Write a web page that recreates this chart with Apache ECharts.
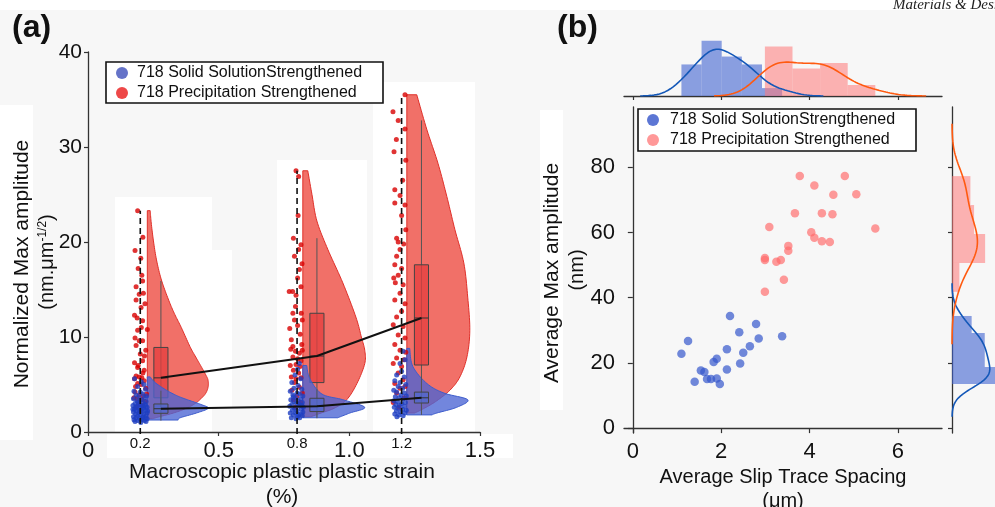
<!DOCTYPE html>
<html>
<head>
<meta charset="utf-8">
<script src="https://cdn.jsdelivr.net/npm/echarts/dist/echarts.min.js"></script>
<style>
  html, body { margin: 0; padding: 0; background: #f7f7f7; }
  #chart { width: 995px; height: 507px; }
</style>
</head>
<body>
<div id="chart"></div>
<script>
// ---------- Panel (a): normalized max amplitude vs. macroscopic plastic strain ----------
const strainGroups = [0.2, 0.8, 1.2];
const strainTicks = [0, 0.5, 1.0, 1.5];

// flat (left) edge of each half violin, in strain units
const violinLeft = [0.227, 0.822, 1.22];

// half-violin outlines: [amplitude, width in strain units], top to bottom
const violinPrecip = [
  [[23.3,0.011],[22.0,0.015],[20.0,0.024],[18.0,0.036],[16.0,0.054],[14.0,0.080],[12.5,0.103],[11.0,0.130],[9.0,0.163],[8.0,0.183],[6.9,0.206],[6.0,0.224],[5.5,0.232],[4.8,0.233],[4.1,0.224],[3.5,0.205],[3.0,0.183],[2.5,0.150],[2.0,0.100],[1.6,0.045],[1.4,0.020]],
  [[27.5,0.019],[25.0,0.035],[22.2,0.054],[19.2,0.096],[15.7,0.153],[12.1,0.203],[10.0,0.224],[8.6,0.237],[7.2,0.237],[5.1,0.207],[3.4,0.168],[2.5,0.120],[2.0,0.070],[1.6,0.030]],
  [[35.5,0.038],[31.8,0.077],[28.3,0.119],[24.8,0.153],[21.3,0.184],[17.8,0.218],[14.2,0.233],[10.7,0.241],[7.9,0.230],[5.8,0.203],[4.4,0.165],[3.2,0.110],[2.4,0.060],[2.0,0.030]]
];
const violinSolid = [
  [[5.8,0.011],[5.2,0.030],[4.4,0.073],[3.8,0.115],[3.4,0.153],[2.9,0.205],[2.5,0.233],[2.0,0.188],[1.5,0.126],[1.26,0.118]],
  [[7.0,0.015],[5.6,0.027],[4.0,0.073],[3.4,0.153],[2.6,0.237],[2.0,0.180],[1.5,0.134]],
  [[8.8,0.011],[6.9,0.023],[5.1,0.077],[4.1,0.142],[3.4,0.233],[2.6,0.191],[2.0,0.115],[1.8,0.096]]
];

// box plots: [position, lower whisker, Q1, median, Q3, upper whisker]
const boxPrecip = [[0.279,1.5,3.6,5.7,8.9,15.9],[0.876,1.6,5.2,8.0,12.5,20.4],[1.276,2.0,7.05,12.0,17.6,32.8]];
const boxSolid  = [[0.279,1.2,1.97,2.45,2.95,4.35],[0.876,1.45,2.15,2.7,3.55,4.5],[1.276,1.8,3.05,3.6,4.2,5.8]];

// individual measurements: [jitter offset from the strain level, amplitude]
const stripPrecip = [
  [[-0.010,23.3],[-0.020,19.1],[0.002,18.3],[0.009,15.9],[-0.016,15.3],[-0.004,14.5],[0.012,14.6],[-0.016,13.9],[0.003,13.1],[0.009,11.7],[-0.022,12.3],[0.027,10.8],[-0.010,10.7],[-0.004,9.6],[0.009,9.6],[-0.016,9.1],[0.021,8.6],[0.000,8.2],[-0.022,7.3],[0.009,7.5],[-0.010,6.8],[0.015,6.5],[-0.016,5.9],[-0.004,5.8],[0.006,5.7],[-0.022,5.6],[0.015,5.4],[-0.010,5.1],[0.003,5.0],[0.021,4.6],[-0.020,4.2],[-0.004,3.9],[0.012,3.8],[-0.012,3.5],[0.006,3.4],[-0.024,3.6],[0.018,3.2],[-0.006,3.0],[0.024,4.0],[-0.018,4.8],[0.010,6.2],[-0.008,7.0],[0.016,8.0],[-0.020,9.9],[0.004,11.0],[-0.012,12.0],[0.018,13.5],[0.006,16.5],[-0.008,17.2],[0.010,20.5],[-0.014,2.6],[0.010,2.8],[0.000,2.2]],
  [[-0.004,27.5],[0.006,26.9],[-0.014,20.4],[0.015,19.7],[0.006,19.2],[-0.010,18.5],[0.019,17.7],[0.009,17.1],[0.002,16.2],[-0.030,14.8],[-0.017,14.8],[0.015,15.3],[-0.004,14.4],[-0.006,13.2],[-0.016,12.5],[0.016,12.5],[-0.010,11.8],[0.020,11.8],[0.002,11.2],[-0.022,9.7],[0.012,10.3],[-0.016,9.0],[-0.024,8.7],[-0.006,8.5],[0.009,8.3],[0.020,8.6],[-0.016,7.9],[0.002,7.7],[0.015,7.5],[-0.026,7.0],[-0.004,7.1],[0.011,6.9],[-0.014,6.5],[0.006,6.2],[-0.022,5.8],[-0.004,5.6],[0.015,5.7],[-0.010,5.2],[0.009,4.7],[-0.020,4.4],[0.020,4.1],[0.000,3.8],[-0.014,3.4],[0.012,3.1],[-0.006,2.6],[0.018,9.2],[-0.028,10.9],[0.004,22.8]],
  [[-0.033,33.7],[-0.013,32.8],[0.013,35.5],[0.013,31.9],[0.016,28.6],[-0.029,29.5],[-0.026,25.5],[-0.006,24.9],[-0.026,24.1],[0.013,23.9],[0.000,22.8],[0.016,21.3],[-0.019,20.4],[-0.013,20.0],[-0.006,19.2],[-0.019,18.5],[-0.026,17.6],[0.000,17.2],[-0.013,16.5],[-0.024,15.7],[0.006,15.5],[-0.006,14.6],[-0.026,13.9],[0.013,13.5],[0.000,12.7],[-0.019,12.1],[-0.032,11.3],[0.006,11.1],[-0.013,10.2],[0.013,9.9],[-0.026,9.2],[-0.006,8.6],[-0.019,7.8],[0.009,7.6],[-0.032,7.2],[0.000,6.9],[-0.013,6.2],[-0.026,5.1],[0.006,5.5],[-0.006,4.6],[-0.019,4.1],[0.013,4.8],[-0.032,3.1],[0.010,3.6],[-0.010,2.6],[0.004,26.5],[-0.020,30.8],[0.008,19.8],[-0.030,16.2],[0.016,8.4]]
];
const stripSolid = [
  [[-0.022,5.6],[0.004,5.3],[0.014,5.0],[-0.010,4.8],[0.020,4.5],[-0.024,4.3],[0.000,4.2],[0.010,4.0],[-0.016,3.9],[0.024,3.8],[-0.006,3.7],[0.016,3.6],[-0.026,3.5],[0.004,3.4],[-0.012,3.3],[0.022,3.2],[0.010,3.1],[-0.020,3.0],[-0.002,2.9],[0.018,2.9],[-0.028,2.8],[0.006,2.7],[-0.012,2.7],[0.026,2.6],[-0.004,2.5],[0.014,2.5],[-0.022,2.4],[0.002,2.3],[0.020,2.3],[-0.014,2.2],[0.008,2.1],[-0.026,2.1],[0.026,2.0],[-0.006,2.0],[0.014,1.9],[-0.018,1.9],[0.000,1.8],[0.022,1.7],[-0.010,1.7],[-0.026,1.6],[0.010,1.6],[0.018,1.5],[-0.016,1.5],[-0.002,1.4],[0.026,1.4],[-0.024,1.3],[0.006,1.3],[-0.010,1.2],[0.016,1.2],[-0.020,1.1],[0.002,1.0],[0.012,2.6],[-0.008,3.1],[0.022,1.1],[-0.028,2.4],[0.020,2.8],[-0.018,2.6],[0.008,1.5],[-0.004,2.2],[0.028,2.2]],
  [[0.009,7.2],[0.002,6.6],[-0.008,6.0],[0.014,5.6],[-0.020,5.2],[0.004,4.9],[-0.012,4.6],[0.018,4.5],[-0.026,4.3],[0.000,4.1],[0.010,4.0],[-0.016,3.9],[0.022,3.8],[-0.006,3.6],[0.014,3.5],[-0.024,3.4],[0.004,3.3],[-0.012,3.2],[0.020,3.1],[-0.002,3.0],[0.010,2.9],[-0.020,2.9],[-0.028,2.7],[0.006,2.7],[0.024,2.6],[-0.010,2.5],[0.016,2.4],[-0.018,2.3],[0.000,2.2],[0.022,2.1],[-0.026,2.0],[-0.006,2.0],[0.012,1.9],[-0.014,1.8],[0.020,1.7],[0.002,1.6],[-0.022,1.5],[0.010,1.5],[-0.004,1.4],[0.018,2.8],[-0.014,3.7],[0.006,1.8]],
  [[0.006,8.5],[0.013,7.6],[-0.006,7.2],[0.000,6.4],[-0.019,6.0],[0.010,5.8],[-0.026,5.4],[-0.006,5.2],[0.016,5.0],[-0.013,4.8],[0.004,4.6],[-0.030,4.4],[-0.019,4.2],[0.010,4.1],[-0.002,3.9],[0.018,3.8],[-0.024,3.7],[-0.010,3.6],[0.006,3.5],[-0.030,3.3],[-0.016,3.2],[0.014,3.1],[0.000,3.0],[-0.022,2.9],[-0.008,2.8],[0.010,2.7],[-0.028,2.6],[-0.014,2.5],[0.004,2.4],[0.018,2.3],[-0.020,2.2],[-0.004,2.1],[0.012,2.0],[-0.026,1.9],[-0.010,1.8],[0.006,1.7],[-0.018,1.6]]
];

// ---------- Panel (b): average max amplitude vs. average slip trace spacing ----------
const spacingSolid    = [1.10,1.25,1.40,1.54,1.62,1.68,1.77,1.83,1.90,1.90,1.97,2.13,2.13,2.20,2.41,2.43,2.50,2.65,2.79,2.85,3.38];
const amplitudeSolid  = [22.8,26.7,14.2,17.7,17.2,15.1,15.1,20.3,21.3,15.2,13.5,24.2,18.0,34.4,29.4,19.8,23.1,25.1,31.9,27.5,28.2];
const spacingPrecip   = [3.78,4.80,4.11,4.54,5.06,3.67,4.28,4.52,3.09,5.49,4.04,4.11,4.28,4.46,3.52,3.52,2.99,2.99,3.25,3.35,3.42,2.99];
const amplitudePrecip = [77.3,77.3,74.4,71.6,71.7,65.9,65.9,65.6,61.7,61.2,60.1,58.4,57.3,57.1,55.9,54.4,52.2,51.6,51.0,51.6,45.5,41.8];
const spacingTicks = [0, 2, 4, 6];
const amplitudeTicks = [0, 20, 40, 60, 80];
// number of histogram bins for each marginal distribution
const binsSpacingSolid = 5, binsSpacingPrecip = 4, binsAmpSolid = 4, binsAmpPrecip = 4;

const NAME_SOLID = '718 Solid SolutionStrengthened';
const NAME_PRECIP = '718 Precipitation Strengthened';
const FONT = '"Liberation Sans", Arial, Helvetica, sans-serif';

// ---------- helpers ----------
function histogram(values, bins) {
  const lo = Math.min(...values), hi = Math.max(...values), w = (hi - lo) / bins;
  const counts = new Array(bins).fill(0);
  values.forEach(v => { let k = Math.floor((v - lo) / w); if (k >= bins) k = bins - 1; counts[k]++; });
  return counts.map((c, k) => [lo + k * w, lo + (k + 1) * w, c / (values.length * w)]);
}
function gaussianKde(values, steps) {
  const n = values.length;
  const mean = values.reduce((a, b) => a + b, 0) / n;
  const sd = Math.sqrt(values.reduce((a, b) => a + (b - mean) * (b - mean), 0) / (n - 1));
  const bw = sd * Math.pow(n, -0.2);
  const lo = Math.min(...values) - 3 * bw, hi = Math.max(...values) + 3 * bw;
  const out = [];
  for (let i = 0; i <= steps; i++) {
    const x = lo + (hi - lo) * i / steps;
    let s = 0;
    values.forEach(v => { const z = (x - v) / bw; s += Math.exp(-0.5 * z * z); });
    out.push([x, s / (n * bw * Math.sqrt(2 * Math.PI))]);
  }
  return out;
}
function catmullRom(pts, seg) {
  const out = [];
  for (let i = 0; i < pts.length - 1; i++) {
    const p0 = pts[Math.max(i - 1, 0)], p1 = pts[i], p2 = pts[i + 1], p3 = pts[Math.min(i + 2, pts.length - 1)];
    for (let t = 0; t < seg; t++) {
      const s = t / seg, s2 = s * s, s3 = s2 * s;
      const f = d => 0.5 * (2 * p1[d] + (-p0[d] + p2[d]) * s + (2 * p0[d] - 5 * p1[d] + 4 * p2[d] - p3[d]) * s2 + (-p0[d] + 3 * p1[d] - 3 * p2[d] + p3[d]) * s3);
      out.push([f(0), f(1)]);
    }
  }
  out.push(pts[pts.length - 1]);
  return out;
}

// ---------- panel (a) series builders ----------
function violinSeries(profiles, fill, edge, z) {
  return {
    type: 'custom', xAxisIndex: 0, yAxisIndex: 0, z: z, silent: true,
    data: profiles.map((p, i) => [violinLeft[i], p[0][0], i]),
    renderItem: function (params, api) {
      const left = api.value(0), prof = profiles[api.value(2)];
      const outline = catmullRom(prof.map(([v, w]) => api.coord([left + w, v])), 10);
      const pts = [api.coord([left, prof[0][0]])].concat(outline, [api.coord([left, prof[prof.length - 1][0]])]);
      return { type: 'polygon', shape: { points: pts }, style: { fill: fill, stroke: edge, lineWidth: 1 } };
    }
  };
}
const BOX_WIDTH = 0.054;
function boxSeries(boxes, fill, z) {
  return {
    type: 'custom', xAxisIndex: 0, yAxisIndex: 0, z: z, silent: true,
    data: boxes,
    renderItem: function (params, api) {
      const x = api.value(0);
      const half = api.size([BOX_WIDTH, 0])[0] / 2;
      const lo = api.coord([x, api.value(1)]), q1 = api.coord([x, api.value(2)]);
      const md = api.coord([x, api.value(3)]), q3 = api.coord([x, api.value(4)]), hi = api.coord([x, api.value(5)]);
      return { type: 'group', children: [
        { type: 'line', shape: { x1: lo[0], y1: lo[1], x2: hi[0], y2: hi[1] }, style: { stroke: '#555', lineWidth: 1 } },
        { type: 'rect', shape: { x: q3[0] - half, y: q3[1], width: 2 * half, height: q1[1] - q3[1] }, style: { fill: fill, stroke: '#444', lineWidth: 1 } },
        { type: 'line', shape: { x1: md[0] - half, y1: md[1], x2: md[0] + half, y2: md[1] }, style: { stroke: '#333', lineWidth: 1 } }
      ] };
    }
  };
}
function stripSeries(strips, color, z) {
  const data = [];
  strips.forEach((g, i) => g.forEach(([d, v]) => data.push([strainGroups[i] + d, v])));
  return { type: 'scatter', xAxisIndex: 0, yAxisIndex: 0, z: z, silent: true, symbolSize: 5,
           itemStyle: { color: color }, data: data };
}

// ---------- panel (b) derived distributions ----------
const histTopSolid = histogram(spacingSolid, binsSpacingSolid);
const histTopPrecip = histogram(spacingPrecip, binsSpacingPrecip);
const histSideSolid = histogram(amplitudeSolid, binsAmpSolid);
const histSidePrecip = histogram(amplitudePrecip, binsAmpPrecip);
const kdeTopSolid = gaussianKde(spacingSolid, 200);
const kdeTopPrecip = gaussianKde(spacingPrecip, 200);
const kdeSideSolid = gaussianKde(amplitudeSolid, 200);
const kdeSidePrecip = gaussianKde(amplitudePrecip, 200);
const topMax = 1.05 * Math.max(...histTopSolid.map(h => h[2]), ...histTopPrecip.map(h => h[2]), ...kdeTopSolid.map(k => k[1]), ...kdeTopPrecip.map(k => k[1]));
const sideMax = 1.05 * Math.max(...histSideSolid.map(h => h[2]), ...histSidePrecip.map(h => h[2]), ...kdeSideSolid.map(k => k[1]), ...kdeSidePrecip.map(k => k[1]));
// the right-hand marginal panel is 55 px wide but only its first 43 px fit on the page
const SIDE_FULL = 55, SIDE_SHOWN = 43;
const sideShownMax = sideMax * SIDE_SHOWN / SIDE_FULL;

function topHist(h, fill, z) {
  return { type: 'custom', xAxisIndex: 3, yAxisIndex: 2, z: z, silent: true, clip: true, data: h,
    renderItem: function (params, api) {
      const a = api.coord([api.value(0), api.value(2)]), b = api.coord([api.value(1), 0]);
      return { type: 'rect', shape: { x: a[0], y: a[1], width: b[0] - a[0], height: b[1] - a[1] }, style: { fill: fill } };
    } };
}
function sideHist(h, fill, z) {
  return { type: 'custom', xAxisIndex: 4, yAxisIndex: 3, z: z, silent: true, clip: true, data: h,
    renderItem: function (params, api) {
      const a = api.coord([0, api.value(1)]), b = api.coord([api.value(2), api.value(0)]);
      return { type: 'rect', shape: { x: a[0], y: a[1], width: b[0] - a[0], height: b[1] - a[1] }, style: { fill: fill } };
    } };
}

const axisLineStyle = { lineStyle: { color: '#333', width: 1.3 } };
const tickStyle = { lineStyle: { color: '#333', width: 1.2 } };

const option = {
  backgroundColor: '#f7f7f7',
  animation: false,
  textStyle: { fontFamily: FONT },
  grid: [
    { left: 88, top: 52, width: 392, height: 380 },
    { left: 624, top: 107, width: 318, height: 326 },
    { left: 624, top: 38, width: 318, height: 58 },
    { left: 952, top: 107, width: SIDE_SHOWN, height: 326 }
  ],
  xAxis: [
    { gridIndex: 0, type: 'value', min: 0, max: 1.5, interval: 0.5,
      axisLine: axisLineStyle, axisTick: Object.assign({ length: 4 }, tickStyle), splitLine: { show: false },
      axisLabel: { fontSize: 22, color: '#111', margin: 8, fontFamily: FONT, formatter: v => (v === 0 ? '0' : v.toFixed(1)) } },
    { gridIndex: 0, type: 'value', min: 0, max: 1.5, position: 'bottom', offset: 0,
      axisLine: { show: false }, axisTick: { show: false }, splitLine: { show: false },
      axisLabel: { customValues: strainGroups, fontSize: 15, color: '#111', margin: 4, fontFamily: FONT, formatter: v => v.toFixed(1) } },
    { gridIndex: 1, type: 'value', min: -0.2, max: 7.0,
      axisLine: axisLineStyle, axisTick: Object.assign({ length: 5, customValues: spacingTicks }, tickStyle), splitLine: { show: false },
      axisLabel: { customValues: spacingTicks, fontSize: 22, color: '#111', margin: 8, fontFamily: FONT } },
    { gridIndex: 2, type: 'value', min: -0.2, max: 7.0,
      axisLine: axisLineStyle, axisTick: Object.assign({ length: 4, customValues: spacingTicks }, tickStyle), splitLine: { show: false },
      axisLabel: { show: false } },
    { gridIndex: 3, type: 'value', min: 0, max: sideShownMax, show: false, splitLine: { show: false } }
  ],
  yAxis: [
    { gridIndex: 0, type: 'value', min: 0, max: 40, interval: 10,
      axisLine: Object.assign({ show: true }, axisLineStyle), axisTick: Object.assign({ show: true, length: 4 }, tickStyle), splitLine: { show: false },
      axisLabel: { fontSize: 21, color: '#111', margin: 6, fontFamily: FONT } },
    { gridIndex: 1, type: 'value', min: -1.5, max: 98.5,
      axisLine: Object.assign({ show: true }, axisLineStyle), axisTick: Object.assign({ show: true, length: 5, customValues: amplitudeTicks }, tickStyle), splitLine: { show: false },
      axisLabel: { customValues: amplitudeTicks, fontSize: 22, color: '#111', margin: 9, fontFamily: FONT } },
    { gridIndex: 2, type: 'value', min: 0, max: topMax, show: false, splitLine: { show: false } },
    { gridIndex: 3, type: 'value', min: -1.5, max: 98.5,
      axisLine: Object.assign({ show: true }, axisLineStyle), axisTick: Object.assign({ show: true, length: 4, customValues: amplitudeTicks }, tickStyle), splitLine: { show: false },
      axisLabel: { show: false } }
  ],
  series: [
    // panel (a)
    violinSeries(violinPrecip, 'rgba(240,96,88,0.9)', '#e0302a', 2),
    boxSeries(boxPrecip, 'rgba(228,62,62,0.75)', 3),
    violinSeries(violinSolid, 'rgba(74,100,212,0.78)', '#3d5ccc', 4),
    boxSeries(boxSolid, 'rgba(80,104,206,0.75)', 5),
    stripSeries(stripPrecip, '#d80000', 6),
    stripSeries(stripSolid, '#1e3fc2', 7),
    { type: 'custom', xAxisIndex: 0, yAxisIndex: 0, z: 8, silent: true, clip: false,
      data: strainGroups.map((g, i) => [g, Math.max(...stripPrecip[i].map(p => p[1]))]),
      renderItem: function (params, api) {
        const a = api.coord([api.value(0), -0.2]), b = api.coord([api.value(0), api.value(1)]);
        return { type: 'line', shape: { x1: a[0], y1: a[1], x2: b[0], y2: b[1] }, style: { stroke: '#111', lineWidth: 1.6, lineDash: [6, 4] } };
      } },
    { type: 'line', xAxisIndex: 0, yAxisIndex: 0, z: 9, silent: true, symbol: 'none',
      lineStyle: { color: '#111', width: 2 }, data: boxPrecip.map(b => [b[0], b[3]]) },
    { type: 'line', xAxisIndex: 0, yAxisIndex: 0, z: 9, silent: true, symbol: 'none',
      lineStyle: { color: '#111', width: 2 }, data: boxSolid.map(b => [b[0], b[3]]) },
    // panel (b) joint scatter
    { name: NAME_SOLID, type: 'scatter', xAxisIndex: 2, yAxisIndex: 1, z: 3, silent: true, symbolSize: 8.5,
      itemStyle: { color: '#3557cc', opacity: 0.7 }, data: spacingSolid.map((x, i) => [x, amplitudeSolid[i]]) },
    { name: NAME_PRECIP, type: 'scatter', xAxisIndex: 2, yAxisIndex: 1, z: 3, silent: true, symbolSize: 8.5,
      itemStyle: { color: '#ff6a6a', opacity: 0.68 }, data: spacingPrecip.map((x, i) => [x, amplitudePrecip[i]]) },
    // marginal histograms and densities
    topHist(histTopSolid, 'rgba(63,98,208,0.6)', 2),
    topHist(histTopPrecip, 'rgba(255,120,120,0.55)', 3),
    { type: 'line', xAxisIndex: 3, yAxisIndex: 2, z: 4, silent: true, symbol: 'none', lineStyle: { color: '#1458b8', width: 1.6 }, data: kdeTopSolid },
    { type: 'line', xAxisIndex: 3, yAxisIndex: 2, z: 4, silent: true, symbol: 'none', lineStyle: { color: '#ff5a10', width: 1.6 }, data: kdeTopPrecip },
    sideHist(histSideSolid, 'rgba(63,98,208,0.6)', 2),
    sideHist(histSidePrecip, 'rgba(255,120,120,0.55)', 3),
    { type: 'line', xAxisIndex: 4, yAxisIndex: 3, z: 4, silent: true, symbol: 'none', lineStyle: { color: '#1458b8', width: 1.6 }, data: kdeSideSolid.map(k => [k[1], k[0]]) },
    { type: 'line', xAxisIndex: 4, yAxisIndex: 3, z: 4, silent: true, symbol: 'none', lineStyle: { color: '#ff5a10', width: 1.6 }, data: kdeSidePrecip.map(k => [k[1], k[0]]) }
  ],
  graphic: [
    // light panels behind parts of the figure
    { type: 'rect', z: -10, silent: true, shape: { x: 0, y: 0, width: 995, height: 10 }, style: { fill: '#ffffff' } },
    { type: 'rect', z: -10, silent: true, shape: { x: 115, y: 197, width: 97, height: 236 }, style: { fill: '#ffffff' } },
    { type: 'rect', z: -10, silent: true, shape: { x: 212, y: 250, width: 20, height: 157 }, style: { fill: '#ffffff' } },
    { type: 'rect', z: -10, silent: true, shape: { x: 277, y: 160, width: 90, height: 260 }, style: { fill: '#ffffff' } },
    { type: 'rect', z: -10, silent: true, shape: { x: 373, y: 82, width: 102, height: 350 }, style: { fill: '#ffffff' } },
    { type: 'rect', z: -10, silent: true, shape: { x: 107, y: 434, width: 406, height: 24 }, style: { fill: '#ffffff' } },
    { type: 'rect', z: -10, silent: true, shape: { x: 0, y: 105, width: 33, height: 335 }, style: { fill: '#ffffff' } },
    { type: 'rect', z: -10, silent: true, shape: { x: 540, y: 110, width: 23, height: 300 }, style: { fill: '#ffffff' } },
    // panel letters and journal header
    { type: 'text', left: 12, top: 12, silent: true, style: { text: '(a)', font: 'bold 32px ' + FONT, fill: '#111' } },
    { type: 'text', left: 557, top: 12, silent: true, style: { text: '(b)', font: 'bold 32px ' + FONT, fill: '#111' } },
    { type: 'text', x: 893, y: -2, silent: true, style: { text: 'Materials & Design', font: 'italic 15px "Liberation Serif", "DejaVu Serif", serif', fill: '#222' } },
    // axis titles
    { type: 'text', x: 22, y: 264, rotation: Math.PI / 2, silent: true,
      style: { text: 'Normalized Max amplitude', font: '21px ' + FONT, fill: '#111', align: 'center', verticalAlign: 'middle', textAlign: 'center', textVerticalAlign: 'middle' } },
    { type: 'text', x: 47, y: 262, rotation: Math.PI / 2, silent: true,
      style: { text: '{b|(nm.μm}{s|-1/2}{b|)}', fill: '#111', align: 'center', verticalAlign: 'middle', textAlign: 'center', textVerticalAlign: 'middle',
               rich: { b: { fontSize: 20, fontFamily: FONT, fill: '#111' }, s: { fontSize: 12, fontFamily: FONT, fill: '#111', verticalAlign: 'top' } } } },
    { type: 'text', x: 282, y: 472, silent: true,
      style: { text: 'Macroscopic plastic plastic strain', font: '21px ' + FONT, fill: '#111', align: 'center', verticalAlign: 'middle', textAlign: 'center', textVerticalAlign: 'middle' } },
    { type: 'text', x: 282, y: 497, silent: true,
      style: { text: '(%)', font: '21px ' + FONT, fill: '#111', align: 'center', verticalAlign: 'middle', textAlign: 'center', textVerticalAlign: 'middle' } },
    { type: 'text', x: 783, y: 477, silent: true,
      style: { text: 'Average Slip Trace Spacing', font: '20px ' + FONT, fill: '#111', align: 'center', verticalAlign: 'middle', textAlign: 'center', textVerticalAlign: 'middle' } },
    { type: 'text', x: 783, y: 501, silent: true,
      style: { text: '(μm)', font: '20px ' + FONT, fill: '#111', align: 'center', verticalAlign: 'middle', textAlign: 'center', textVerticalAlign: 'middle' } },
    { type: 'text', x: 552, y: 273, rotation: Math.PI / 2, silent: true,
      style: { text: 'Average Max amplitude', font: '21px ' + FONT, fill: '#111', align: 'center', verticalAlign: 'middle', textAlign: 'center', textVerticalAlign: 'middle' } },
    { type: 'text', x: 577, y: 270, rotation: Math.PI / 2, silent: true,
      style: { text: '(nm)', font: '20px ' + FONT, fill: '#111', align: 'center', verticalAlign: 'middle', textAlign: 'center', textVerticalAlign: 'middle' } },
    // legend, panel (a)
    { type: 'group', z: 100, silent: true, children: [
      { type: 'rect', shape: { x: 106, y: 62, width: 277, height: 41 }, style: { fill: '#ffffff', stroke: '#111', lineWidth: 1.6 } },
      { type: 'circle', shape: { cx: 122, cy: 73, r: 6 }, style: { fill: '#6573c8' } },
      { type: 'circle', shape: { cx: 122, cy: 93, r: 6 }, style: { fill: '#ee4848' } },
      { type: 'text', x: 137, y: 73, style: { text: NAME_SOLID, font: '16px ' + FONT, fill: '#111', verticalAlign: 'middle', textVerticalAlign: 'middle' } },
      { type: 'text', x: 137, y: 93, style: { text: NAME_PRECIP, font: '16px ' + FONT, fill: '#111', verticalAlign: 'middle', textVerticalAlign: 'middle' } }
    ] },
    // legend, panel (b)
    { type: 'group', z: 100, silent: true, children: [
      { type: 'rect', shape: { x: 638, y: 109, width: 278, height: 42 }, style: { fill: '#ffffff', stroke: '#111', lineWidth: 1.6 } },
      { type: 'circle', shape: { cx: 653, cy: 120, r: 6 }, style: { fill: '#5c76d4' } },
      { type: 'circle', shape: { cx: 653, cy: 140, r: 6 }, style: { fill: '#ff9898' } },
      { type: 'text', x: 670, y: 120, style: { text: NAME_SOLID, font: '16px ' + FONT, fill: '#111', verticalAlign: 'middle', textVerticalAlign: 'middle' } },
      { type: 'text', x: 670, y: 140, style: { text: NAME_PRECIP, font: '16px ' + FONT, fill: '#111', verticalAlign: 'middle', textVerticalAlign: 'middle' } }
    ] }
  ]
};

const chart = echarts.init(document.getElementById('chart'), null, { renderer: 'canvas' });
chart.setOption(option);
</script>
</body>
</html>
